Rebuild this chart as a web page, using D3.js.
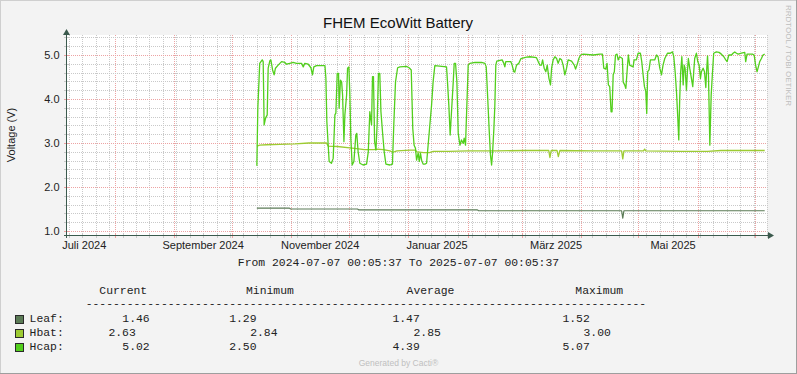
<!DOCTYPE html>
<html><head><meta charset="utf-8">
<script src="https://cdn.jsdelivr.net/npm/d3@7"></script>
<style>html,body{margin:0;padding:0;background:#F3F3F3;} svg{display:block;}</style>
</head><body><svg id="c" width="797" height="374"></svg>
<script>
// ---------------- DATA ----------------
const chartTitle = "FHEM EcoWitt Battery";
const yAxisTitle = "Voltage (V)";
const rangeStart = "2024-07-07T00:05:37";
const rangeEnd   = "2025-07-07T00:05:37";
const seriesStart = "2024-10-14T00:00:00";   // series times below are days after this
const yTickValues = [1.0, 2.0, 3.0, 4.0, 5.0];
const xTickLabels = ["Juli 2024", "September 2024", "November 2024", "Januar 2025", "März 2025", "Mai 2025"];
const xTickLabelDates = ["2024-07-16", "2024-09-16", "2024-11-16", "2025-01-16", "2025-03-19", "2025-05-19"];

const leafSeries = [[0,1.52],[17,1.52],[17.6,1.50],[52.5,1.50],[53.2,1.48],[115,1.48],[115.6,1.46],
  [190.2,1.46],[190.8,1.29],[191.4,1.46],[264.8,1.46]];

const hbatSeries = [[0,2.93],[1.5,2.95],[5,2.96],[12,2.97],[20,2.98],[27,3.00],[36.3,3.00],[37.2,2.93],
  [42,2.92],[48.5,2.89],[52,2.87],[56,2.85],[61,2.85],[62.4,2.86],[66,2.85],[69.4,2.82],[71,2.79],
  [73,2.82],[80,2.84],[82.4,2.84],[83.5,2.80],[87,2.78],[90,2.78],[92,2.81],[100,2.81],[110,2.82],
  [125,2.82],[140,2.83],[152.2,2.83],[152.8,2.67],[153.5,2.83],[156.5,2.83],[157.2,2.69],[158,2.83],
  [175,2.82],[190.2,2.82],[190.8,2.64],[191.4,2.82],[201.6,2.82],[202.2,2.86],[202.8,2.82],[221,2.81],
  [235,2.81],[242,2.83],[264.8,2.83]];

const hcapSeries = [[0,2.48],[0.5,3.79],[1.5,4.81],[2.8,4.89],[3.3,4.85],[3.8,3.41],[4.5,3.56],[5.4,3.64],
  [5.9,4.70],[6.8,4.87],[7.3,4.89],[8.2,4.66],[9.0,4.55],[9.7,4.70],[11.1,4.77],[12.9,4.85],[14.6,4.83],
  [15.5,4.79],[17.2,4.81],[18.9,4.83],[20.7,4.81],[23.3,4.81],[24.2,4.73],[25.0,4.81],[26.8,4.79],
  [28.2,4.71],[29.0,4.55],[29.7,4.73],[31.1,4.76],[35.5,4.76],[36.0,4.47],[36.5,3.48],[37.2,2.95],
  [37.7,2.58],[38.9,2.54],[39.8,2.65],[40.7,3.64],[41.2,3.68],[41.9,4.58],[42.6,4.58],[42.9,3.79],
  [43.6,4.43],[44.2,4.39],[44.7,4.09],[45.4,3.03],[45.9,3.64],[46.8,4.09],[47.3,4.70],[48.0,4.73],
  [48.5,4.09],[49.0,3.11],[49.7,2.50],[50.6,2.58],[51.6,3.18],[52.1,3.22],[52.8,2.80],[53.7,2.54],
  [55.4,2.50],[57.2,2.52],[58.1,2.80],[58.9,3.71],[59.8,3.41],[60.3,4.51],[60.8,4.51],[61.4,3.03],
  [62.1,2.84],[62.7,3.41],[63.4,4.58],[64.1,4.58],[64.7,3.71],[65.5,3.26],[66.4,2.80],[67.3,2.52],
  [69.4,2.50],[70.7,2.52],[71.4,3.41],[72.3,4.39],[73.4,4.71],[74.6,4.73],[78.0,4.74],[79.4,4.71],
  [80.5,4.66],[81.3,3.33],[82.0,2.95],[82.7,2.88],[83.3,2.61],[84.1,2.77],[84.7,2.58],[85.3,2.77],
  [85.9,2.61],[86.7,2.52],[87.6,2.52],[88.5,2.54],[89.3,2.95],[90.2,3.41],[91.1,3.86],[91.9,4.39],
  [92.8,4.76],[98.9,4.73],[99.4,4.39],[100.1,3.86],[100.8,3.18],[101.5,3.71],[102.4,4.39],[102.9,4.81],
  [103.6,4.81],[104.3,4.39],[105.0,3.22],[105.9,2.95],[106.7,3.07],[107.6,2.99],[108.1,3.11],[108.8,2.95],
  [109.5,3.86],[110.2,4.77],[111.1,4.81],[113.7,4.83],[117.2,4.83],[118.9,4.81],[119.6,4.73],[120.3,4.09],
  [121.1,3.33],[121.8,2.73],[122.4,2.50],[122.9,2.77],[123.6,3.33],[124.1,3.86],[124.6,4.77],[125.1,4.86],
  [127.9,4.89],[128.8,4.81],[129.3,4.73],[129.8,4.85],[132.4,4.85],[133.1,4.77],[134.0,4.62],[134.5,4.61],
  [135.4,4.77],[136.6,4.81],[137.7,4.92],[140.6,4.95],[142.4,4.96],[145.8,4.94],[146.7,4.85],[147.6,4.77],
  [148.4,4.77],[149.0,4.89],[149.8,4.70],[150.7,4.62],[151.4,4.77],[152.3,4.47],[153.1,4.32],[153.7,4.70],
  [154.5,4.89],[155.4,4.96],[156.3,4.92],[157.1,4.81],[158.0,4.92],[158.9,4.89],[159.7,4.77],[160.6,4.55],
  [161.5,4.70],[162.3,4.89],[164.1,4.86],[165.5,4.77],[166.2,4.68],[167.2,4.81],[167.9,4.92],[168.8,5.00],
  [170.2,5.02],[175.4,5.00],[178.8,5.02],[180.2,5.02],[180.9,4.70],[181.9,4.68],[182.6,4.81],[183.3,4.32],
  [184.0,4.28],[184.7,3.71],[185.2,3.71],[185.8,4.55],[186.4,4.62],[187.0,5.00],[187.8,5.02],[188.4,4.89],
  [189.2,4.96],[190.6,4.92],[191.0,4.39],[191.8,4.32],[192.4,4.24],[193.1,4.66],[193.7,5.00],[194.4,4.77],
  [196.2,4.73],[196.7,4.89],[197.9,4.89],[198.8,5.04],[200.0,5.04],[200.7,4.85],[201.4,4.55],[202.1,4.28],
  [202.8,4.17],[203.3,3.67],[203.8,4.62],[204.5,4.66],[205.2,4.89],[207.5,4.89],[208.4,5.00],[209.2,4.96],
  [210.1,4.70],[211.0,4.55],[211.8,4.77],[212.7,4.92],[214.1,5.04],[215.6,5.04],[216.7,5.07],[217.4,4.96],
  [218.1,4.62],[218.8,4.17],[219.5,3.56],[220.0,3.07],[220.5,4.02],[221.0,4.62],[221.6,4.96],[222.3,4.32],
  [222.8,4.77],[223.3,4.70],[224.0,4.20],[224.5,4.62],[225.0,4.92],[225.7,4.70],[226.6,4.47],[227.3,4.28],
  [227.8,4.62],[228.3,4.92],[229.2,5.04],[229.9,4.85],[230.6,4.77],[231.3,4.47],[231.8,4.62],[232.7,4.70],
  [233.4,4.62],[234.1,4.26],[234.4,4.55],[235.0,4.98],[235.5,4.51],[236.2,2.95],[236.9,4.09],[237.6,4.62],
  [238.2,5.04],[239.6,5.07],[241.0,5.06],[242.2,5.02],[243.5,4.96],[244.5,4.89],[245.2,4.85],[246.1,5.00],
  [247.5,5.00],[248.3,5.04],[249.2,5.07],[250.1,5.04],[251.0,5.02],[252.7,5.04],[254.4,5.06],[254.9,4.85],
  [255.6,5.02],[258.4,5.02],[259.3,5.00],[260.1,4.76],[260.8,4.62],[261.5,4.73],[262.2,4.85],[263.1,4.92],
  [263.9,5.00],[264.8,5.02]];

const seriesNames  = ["Leaf:", "Hbat:", "Hcap:"];
const seriesColors = ["#5B7B56", "#9DCB32", "#52CF1D"];
const statHeaders  = ["Current", "Minimum", "Average", "Maximum"];
const statCurrent  = ["1.46", "2.63", "5.02"];
const statMinimum  = ["1.29", "2.84", "2.50"];
const statAverage  = ["1.47", "2.85", "4.39"];
const statMaximum  = ["1.52", "3.00", "5.07"];
const periodText = "From 2024-07-07 00:05:37 To 2025-07-07 00:05:37";
const watermark = "RRDTOOL / TOBI OETIKER";
const footer = "Generated by Cacti®";

// ---------------- LAYOUT ----------------
const W = 797, H = 374;
const X0 = 67, X1 = 767, Y0 = 35, Y1 = 235;
const SANS = "'Liberation Sans', Arial, sans-serif";
const MONO = "'Liberation Mono', 'Courier New', monospace";
const svg = d3.select("#c");

const parse = s => new Date(s);
const t0 = parse(rangeStart), t1 = parse(rangeEnd), sStart = parse(seriesStart).getTime();
const dayToDate = d => new Date(sStart + d * 86400000);

const xs = d3.scaleTime().domain([t0, t1]).range([X0, X1]);
const ys = d3.scaleLinear().domain([1 - 4/44, 1 + 196/44]).range([Y1, Y0]);

svg.append("rect").attr("width", W).attr("height", H).attr("fill", "#F3F3F3");
// frame
svg.append("line").attr("x1",0).attr("y1",0.5).attr("x2",W).attr("y2",0.5).attr("stroke","#CFCFCF");
svg.append("line").attr("x1",0.5).attr("y1",0).attr("x2",0.5).attr("y2",H).attr("stroke","#CFCFCF");
svg.append("line").attr("x1",0).attr("y1",H-0.5).attr("x2",W).attr("y2",H-0.5).attr("stroke","#9E9E9E");
svg.append("line").attr("x1",W-0.5).attr("y1",0).attr("x2",W-0.5).attr("y2",H).attr("stroke","#9E9E9E");

// plot background
svg.append("rect").attr("x", X0).attr("y", Y0).attr("width", X1 - X0).attr("height", Y1 - Y0 + 1).attr("fill", "#FFFFFF");

const g = svg.append("g").attr("shape-rendering", "crispEdges");
const minorCol = "#C9C9C9", majorCol = "#EDA3A3";

// vertical grid
const months = d3.timeMonth.range(t0, t1);
const monthKeys = new Set(months.map(m => +m));
const weeks = d3.timeMonday.range(t0, t1).filter(w => !monthKeys.has(+w));
weeks.forEach(w => {
  const x = Math.round(xs(w)) + 0.5;
  g.append("line").attr("x1", x).attr("x2", x).attr("y1", Y0).attr("y2", Y1)
    .attr("stroke", minorCol).attr("stroke-dasharray", "1,1");
  g.append("line").attr("x1", x).attr("x2", x).attr("y1", Y1 - 2).attr("y2", Y1 + 3).attr("stroke", minorCol);
});
months.forEach(m => {
  const x = Math.round(xs(m)) + 0.5;
  g.append("line").attr("x1", x).attr("x2", x).attr("y1", Y0).attr("y2", Y1)
    .attr("stroke", majorCol).attr("stroke-dasharray", "1,1");
  g.append("line").attr("x1", x).attr("x2", x).attr("y1", Y1 - 2).attr("y2", Y1 + 3).attr("stroke", majorCol);
});
// horizontal grid
const minorY = d3.range(10, 55, 2).map(v => v / 10).filter(v => !yTickValues.includes(v));
minorY.forEach(v => {
  const y = Math.round(ys(v)) + 0.5;
  g.append("line").attr("x1", X0).attr("x2", X1).attr("y1", y).attr("y2", y)
    .attr("stroke", minorCol).attr("stroke-dasharray", "1,1");
  g.append("line").attr("x1", X0 - 3).attr("x2", X0 + 2).attr("y1", y).attr("y2", y).attr("stroke", minorCol);
});
yTickValues.forEach(v => {
  const y = Math.round(ys(v)) + 0.5;
  g.append("line").attr("x1", X0).attr("x2", X1).attr("y1", y).attr("y2", y)
    .attr("stroke", majorCol).attr("stroke-dasharray", "1,1");
  g.append("line").attr("x1", X0 - 3).attr("x2", X0 + 2).attr("y1", y).attr("y2", y).attr("stroke", majorCol);
  svg.append("text").attr("x", 59.5).attr("y", ys(v) + 4).attr("text-anchor", "end")
    .attr("font-family", SANS).attr("font-size", 11).attr("fill", "#222").text(v.toFixed(1));
});

// x labels
xTickLabels.forEach((lab, i) => {
  svg.append("text").attr("x", xs(parse(xTickLabelDates[i] + "T00:00:00"))).attr("y", 249)
    .attr("text-anchor", "middle").attr("font-family", SANS).attr("font-size", 11).attr("fill", "#222").text(lab);
});

// series lines
const line = d3.line().x(d => xs(dayToDate(d[0]))).y(d => ys(d[1]));
[[leafSeries, 0, 1.2], [hbatSeries, 1, 1.3], [hcapSeries, 2, 1.3]].forEach(([data, ci, sw]) => {
  svg.append("path").attr("d", line(data)).attr("fill", "none")
    .attr("stroke", seriesColors[ci]).attr("stroke-width", sw).attr("stroke-linejoin", "round");
});

// axes
const axisCol = "#3B5A4D";
svg.append("line").attr("x1", X0 - 0.5).attr("x2", X0 - 0.5).attr("y1", Y1 + 3).attr("y2", 33)
  .attr("stroke", axisCol).attr("shape-rendering", "crispEdges");
svg.append("line").attr("x1", X0 - 3).attr("x2", 770).attr("y1", Y1 + 0.5).attr("y2", Y1 + 0.5)
  .attr("stroke", axisCol).attr("shape-rendering", "crispEdges");
svg.append("path").attr("d", `M${X0-0.5},29 L${X0+3},35 L${X0-4},35 Z`).attr("fill", axisCol);
svg.append("path").attr("d", `M774,${Y1+0.5} L768,${Y1-3} L768,${Y1+4} Z`).attr("fill", axisCol);

// title & axis title
svg.append("text").attr("x", 398).attr("y", 28).attr("text-anchor", "middle")
  .attr("font-family", SANS).attr("font-size", 15).attr("fill", "#111").text(chartTitle);
svg.append("text").attr("transform", "translate(15,135) rotate(-90)").attr("text-anchor", "middle")
  .attr("font-family", SANS).attr("font-size", 11).attr("fill", "#222").text(yAxisTitle);
svg.append("text").attr("transform", "translate(785.5,5) rotate(90)").attr("text-anchor", "start")
  .attr("font-family", SANS).attr("font-size", 8).attr("fill", "#BDBDBD").text(watermark);

// period
svg.append("text").attr("x", 398.5).attr("y", 266).attr("text-anchor", "middle")
  .attr("font-family", MONO).attr("font-size", 11.4).attr("fill", "#222").text(periodText);

// legend header
const headerX = [99.3, 246, 406.6, 575.3];
statHeaders.forEach((h, i) => {
  svg.append("text").attr("x", headerX[i]).attr("y", 294).attr("font-family", MONO)
    .attr("font-size", 11.4).attr("fill", "#222").text(h);
});
svg.append("text").attr("x", 85.7).attr("y", 306.5).attr("font-family", MONO)
  .attr("font-size", 11.4).attr("fill", "#222").text("-".repeat(82));

// legend rows
const rowY = [322, 336, 350];
const colX = [[122.3, 229.2, 392.4, 562.4], [108.4, 250.2, 413.5, 583.5], [122.3, 229.2, 392.4, 562.4]];
const stats = [statCurrent, statMinimum, statAverage, statMaximum];
seriesNames.forEach((n, r) => {
  svg.append("rect").attr("x", 15.5).attr("y", rowY[r] - 6.5).attr("width", 8).attr("height", 8)
    .attr("fill", seriesColors[r]).attr("stroke", "#2A2A2A").attr("shape-rendering", "crispEdges");
  svg.append("text").attr("x", 29.6).attr("y", rowY[r]).attr("font-family", MONO)
    .attr("font-size", 11.4).attr("fill", "#222").text(n);
  stats.forEach((s, c) => {
    svg.append("text").attr("x", colX[r][c]).attr("y", rowY[r]).attr("font-family", MONO)
      .attr("font-size", 11.4).attr("fill", "#222").text(s[r]);
  });
});

// footer
svg.append("text").attr("x", 398.5).attr("y", 366).attr("text-anchor", "middle")
  .attr("font-family", SANS).attr("font-size", 8.5).attr("fill", "#BFBFBF").text(footer);
</script></body></html>
